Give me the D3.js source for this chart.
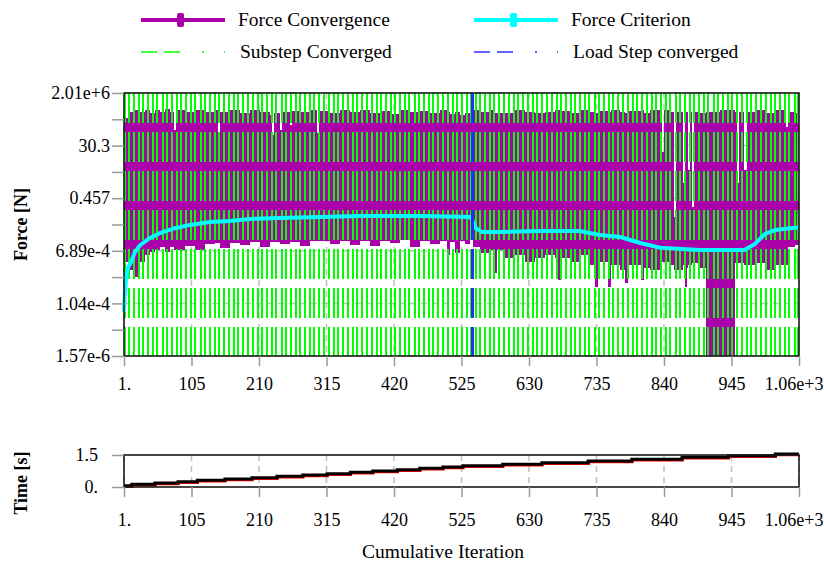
<!DOCTYPE html>
<html>
<head>
<meta charset="utf-8">
<script src="https://cdn.jsdelivr.net/npm/d3@7"></script>
<style>
body { margin: 0; background: #fff; }
svg text { font-family: "Liberation Serif", "Times New Roman", serif; }
</style>
</head>
<body>
<div id="vis"></div>
<script>
// force / time convergence chart

const FRAME_WIDTH = 824;
const FRAME_HEIGHT = 567;
const FONT = 18;
const FONT_BIG = 19.5;

// plot boxes
const MAIN = {left: 124, right: 799, top: 93, bottom: 356};
const TIME = {left: 124, right: 799, top: 455, bottom: 487};

// axis ticks
const X_TICKS = [1, 106, 211, 316, 421, 526, 631, 736, 841, 946, 1051];
const X_TICK_LABELS = ["1.", "105", "210", "315", "420", "525", "630", "735", "840", "945", "1.06e+3"];
const Y_MIN = 1.57e-6;
const Y_MAX = 2.01e6;
const Y_TICK_LABELS = ["1.57e-6", "1.04e-4", "6.89e-4", "0.457", "30.3", "2.01e+6"];
const T_TICKS = [0, 1.5];
const T_TICK_LABELS = ["0.", "1.5"];

// force convergence (max / min of each stretch of iterations)
const FORCE_ITER = [1, 3, 10, 18, 26, 34, 41, 49, 57, 65, 73, 79, 82, 96, 111, 127, 143, 147, 150, 166,
  181, 197, 213, 228, 231, 234, 244, 247, 259, 262, 275, 290, 301, 304, 321, 337, 353, 368, 384, 399,
  415, 430, 446, 461, 477, 493, 503, 508, 516, 524, 531, 539, 542, 544, 555, 570, 578, 581, 594, 609,
  625, 640, 656, 671, 676, 680, 695, 710, 726, 734, 738, 754, 759, 773, 780, 785, 805, 810, 819, 835,
  838, 841, 850, 857, 860, 871, 873, 876, 879, 882, 885, 888, 897, 906, 928, 951, 954, 957, 966, 970,
  982, 998, 1014, 1031, 1034, 1045, 1051];
const FORCE_MAX = [2.0e6, 1.4e5, 2.7e5, 3.3e5, 2.7e5, 3.3e5, 2.4e5, 3.3e5, 2.7e5, 3.7e5, 2.7e5, 3.9e4, 3.3e5, 2.7e5, 3.3e5, 2.7e5, 3.3e5, 2.0e3, 2.7e5, 3.3e5,
  2.4e5, 3.3e5, 2.7e5, 1.9e5, 2.3e4, 2.4e5, 3.9e4, 2.7e5, 6.7e4, 3.0e5, 2.7e5, 3.3e5, 2.8e4, 3.0e5, 2.4e5, 3.3e5, 2.7e5, 3.3e5, 2.4e5, 3.0e5,
  2.2e5, 3.3e5, 2.7e5, 3.0e5, 2.4e5, 3.3e5, 2.7e5, 2.2e5, 2.7e5, 1.9e5, 2.4e5, 2.7e5, 2.0e6, 3.3e5, 2.7e5, 3.3e5, 2.4e5, 2.4e5, 2.4e5, 3.3e5,
  2.7e5, 2.4e5, 2.7e5, 3.3e5, 3.3e5, 3.0e5, 2.4e5, 3.3e5, 2.7e5, 2.4e5, 3.0e5, 2.7e5, 3.3e5, 2.7e5, 2.4e5, 3.0e5, 3.3e5, 2.4e5, 3.3e5, 2.7e5,
  3.8e3, 3.3e5, 2.7e5, 3.9, 2.7e5, 1.4e2, 2.7e5, 2.7e5, 5.7e2, 2.7e5, 11, 2.7e5, 2.4e5, 2.7e5, 3.3e5, 2.7e5, 1.4e2, 2.7e5, 5.7e2, 2.7e5,
  3.3e5, 2.4e5, 3.3e5, 5.3e4, 2.7e5, 2.4e5, 2.4e5];
const FORCE_MIN = [0.033, 0.033, 0.014, 6.8e-3, 0.033, 0.070, 0.093, 0.12, 0.16, 0.093, 0.16, 0.12, 0.12, 0.18, 0.12, 0.22, 0.25, 0.25, 0.15, 0.25,
  0.20, 0.27, 0.16, 0.27, 0.27, 0.27, 0.22, 0.22, 0.27, 0.27, 0.18, 0.31, 0.31, 0.31, 0.22, 0.31, 0.20, 0.31, 0.18, 0.31,
  0.25, 0.34, 0.16, 0.31, 0.22, 0.31, 0.070, 0.27, 0.086, 0.31, 0.22, 0.34, 0.34, 0.16, 0.086, 0.12, 0.010, 0.12, 0.051, 0.070,
  0.033, 0.051, 0.070, 0.051, 4.9e-3, 0.051, 0.033, 0.070, 0.024, 2.4e-3, 0.033, 2.4e-3, 0.024, 0.014, 3.6e-3, 0.024, 4.9e-3, 0.018, 0.014, 0.033,
  0.033, 0.033, 0.024, 0.014, 0.014, 0.024, 2.4e-3, 0.018, 0.024, 0.024, 0.030, 0.030, 0.018, 1.6e-6, 1.6e-6, 0.030, 0.030, 0.030, 0.024, 0.024,
  0.030, 0.014, 0.024, 0.024, 0.16, 0.20, 0.20];

// force criterion
const CRIT_ITER = [1, 2, 4, 7, 12, 18, 26, 41, 57, 80, 104, 135, 166, 197, 244, 306, 368, 461, 539, 542,
  548, 558, 586, 648, 710, 741, 773, 804, 835, 897, 966, 982, 998, 1014, 1037, 1051];
const CRIT_VALUE = [1.7e-4, 8.2e-4, 4.9e-3, 0.018, 0.033, 0.096, 0.20, 0.42, 0.72, 1.2, 1.7, 2.3, 2.6, 3.2, 3.5, 3.9, 4.4, 4.4, 3.9, 3.2,
  1.2, 0.80, 0.80, 0.89, 0.89, 0.58, 0.47, 0.25, 0.15, 0.12, 0.12, 0.22, 0.65, 0.99, 1.2, 1.3];

// substep / load step converged iterations
const SUBSTEP_ITER = [3, 9, 16, 24, 31, 38, 46, 53, 61, 68, 75, 83, 90, 98, 105, 112, 120, 127, 135, 142,
  149, 157, 164, 172, 179, 186, 194, 201, 209, 216, 223, 231, 238, 246, 253, 260, 268, 275, 283, 290,
  297, 305, 312, 320, 327, 334, 342, 349, 357, 364, 371, 379, 386, 394, 401, 408, 416, 423, 431, 438,
  445, 453, 460, 468, 475, 482, 490, 497, 505, 512, 519, 527, 534, 540, 548, 555, 563, 570, 577, 585,
  592, 600, 607, 614, 622, 629, 637, 644, 651, 659, 666, 674, 681, 688, 696, 703, 711, 718, 725, 733,
  740, 748, 755, 762, 770, 777, 785, 792, 799, 807, 814, 822, 829, 836, 844, 851, 859, 866, 873, 881,
  888, 896, 903, 910, 918, 925, 933, 940, 947, 955, 962, 970, 977, 984, 992, 999, 1007, 1014, 1021, 1029,
  1036, 1044, 1049];
const LOADSTEP_ITER = [542];

// time history
const TIME_ITER = [1, 13, 49, 85, 115, 158, 200, 239, 279, 317, 353, 388, 426, 461, 497, 528,
  590, 651, 723, 791, 869, 941, 1014, 1051];
const TIME_VALUE = [0.0625, 0.125, 0.1875, 0.25, 0.3125, 0.375, 0.4375, 0.5, 0.5625, 0.625, 0.6875, 0.75, 0.8125, 0.875, 0.9375, 1.0,
  1.07, 1.14, 1.22, 1.30, 1.39, 1.47, 1.55, 1.55];

// colours
const PURPLE = "#aa00aa";
const CYAN = "#00ffff";
const GREEN = "#00ff00";
const BLUE = "#2a2aff";
const GRID = "#c0c0c0";
const TICK = "#999";

const svg = d3.select("#vis")
  .append("svg")
  .attr("width", FRAME_WIDTH)
  .attr("height", FRAME_HEIGHT);

// scales
const X_SCALE = d3.scaleLinear().domain([1, 1051]).range([MAIN.left, MAIN.right]);
const Y_SCALE = d3.scaleLog().domain([Y_MIN, Y_MAX]).range([MAIN.bottom, MAIN.top]);
const T_SCALE = d3.scaleLinear().domain([0, 1.5]).range([TIME.bottom, TIME.top]);

// equally spaced (in log) y ticks, every other one labelled
const LOG_LO = Math.log10(Y_MIN), LOG_HI = Math.log10(Y_MAX);
const Y_TICKS = d3.range(11).map(i => Math.pow(10, LOG_LO + i * (LOG_HI - LOG_LO) / 10));
const Y_MAJOR = Y_TICKS.filter((d, i) => i % 2 === 0);

// ---------- main plot ----------
const main = svg.append("g");

// gridlines
main.selectAll(".vgrid").data(X_TICKS).enter().append("line")
  .attr("x1", d => X_SCALE(d)).attr("x2", d => X_SCALE(d))
  .attr("y1", MAIN.top).attr("y2", MAIN.bottom)
  .attr("stroke", GRID).attr("stroke-width", 1.5).attr("stroke-dasharray", "6,5");
main.selectAll(".hgrid").data(Y_MAJOR).enter().append("line")
  .attr("x1", MAIN.left).attr("x2", MAIN.right)
  .attr("y1", d => Y_SCALE(d)).attr("y2", d => Y_SCALE(d))
  .attr("stroke", GRID).attr("stroke-width", 1.5).attr("stroke-dasharray", "6,5");

// force convergence band
const forceArea = d3.area()
  .x(i => X_SCALE(FORCE_ITER[i]))
  .y0(i => Y_SCALE(FORCE_MIN[i]))
  .y1(i => Y_SCALE(FORCE_MAX[i]))
  .curve(d3.curveStepAfter);
main.append("path")
  .datum(d3.range(FORCE_ITER.length))
  .attr("d", forceArea)
  .attr("fill", PURPLE)
  .attr("shape-rendering", "crispEdges");

// substep converged
main.selectAll(".substep").data(SUBSTEP_ITER).enter().append("line")
  .attr("x1", d => Math.round(X_SCALE(d))).attr("x2", d => Math.round(X_SCALE(d)))
  .attr("y1", MAIN.top).attr("y2", MAIN.bottom)
  .attr("stroke", GREEN).attr("stroke-width", 2)
  .attr("stroke-dasharray", "30,9")
  .attr("shape-rendering", "crispEdges");

// force criterion
const critLine = d3.line()
  .x(i => X_SCALE(CRIT_ITER[i]))
  .y(i => Y_SCALE(CRIT_VALUE[i]));
main.append("path")
  .datum(d3.range(CRIT_ITER.length))
  .attr("d", critLine)
  .attr("fill", "none")
  .attr("stroke", CYAN)
  .attr("stroke-width", 4);

// load step converged
main.selectAll(".loadstep").data(LOADSTEP_ITER).enter().append("line")
  .attr("x1", d => Math.round(X_SCALE(d))).attr("x2", d => Math.round(X_SCALE(d)))
  .attr("y1", MAIN.top).attr("y2", MAIN.bottom)
  .attr("stroke", BLUE).attr("stroke-width", 3)
  .attr("stroke-dasharray", "30,9")
  .attr("shape-rendering", "crispEdges");

// frame
main.append("rect")
  .attr("x", MAIN.left).attr("y", MAIN.top)
  .attr("width", MAIN.right - MAIN.left).attr("height", MAIN.bottom - MAIN.top)
  .attr("fill", "none").attr("stroke", "#1a1a1a").attr("stroke-width", 1.6);

// axes
const yAxis = main.append("g")
  .attr("transform", "translate(" + MAIN.left + ",0)")
  .call(d3.axisLeft(Y_SCALE).tickValues(Y_TICKS).tickSize(12).tickPadding(2)
    .tickFormat((d, i) => i % 2 === 0 ? Y_TICK_LABELS[i / 2] : ""));
const xAxis = main.append("g")
  .attr("transform", "translate(0," + MAIN.bottom + ")")
  .call(d3.axisBottom(X_SCALE).tickValues(X_TICKS).tickSize(10).tickPadding(11)
    .tickFormat((d, i) => X_TICK_LABELS[i]));

// ---------- time plot ----------
const tplot = svg.append("g");

tplot.selectAll(".vgrid").data(X_TICKS).enter().append("line")
  .attr("x1", d => X_SCALE(d)).attr("x2", d => X_SCALE(d))
  .attr("y1", TIME.top).attr("y2", TIME.bottom)
  .attr("stroke", GRID).attr("stroke-width", 1.5).attr("stroke-dasharray", "6,5");

const timeLine = d3.line()
  .x(i => X_SCALE(TIME_ITER[i]))
  .y(i => T_SCALE(TIME_VALUE[i]))
  .curve(d3.curveStepAfter);
tplot.append("path")
  .datum(d3.range(TIME_ITER.length))
  .attr("d", timeLine)
  .attr("transform", "translate(1,1.5)")
  .attr("fill", "none").attr("stroke", "#ff0000").attr("stroke-width", 1.5);
tplot.append("path")
  .datum(d3.range(TIME_ITER.length))
  .attr("d", timeLine)
  .attr("fill", "none").attr("stroke", "#000").attr("stroke-width", 3);

tplot.append("rect")
  .attr("x", TIME.left).attr("y", TIME.top)
  .attr("width", TIME.right - TIME.left).attr("height", TIME.bottom - TIME.top)
  .attr("fill", "none").attr("stroke", "#1a1a1a").attr("stroke-width", 1.6);

const tAxis = tplot.append("g")
  .attr("transform", "translate(" + TIME.left + ",0)")
  .call(d3.axisLeft(T_SCALE).tickValues(T_TICKS).tickSize(12).tickPadding(14)
    .tickFormat((d, i) => T_TICK_LABELS[i]));
const txAxis = tplot.append("g")
  .attr("transform", "translate(0," + TIME.bottom + ")")
  .call(d3.axisBottom(X_SCALE).tickValues(X_TICKS).tickSize(10).tickPadding(16)
    .tickFormat((d, i) => X_TICK_LABELS[i]));

// axis styling
[yAxis, xAxis, tAxis, txAxis].forEach(ax => {
  ax.select(".domain").remove();
  ax.selectAll(".tick line").attr("stroke", TICK).attr("stroke-width", 1.5);
  ax.selectAll(".tick text")
    .attr("fill", "#000")
    .attr("font-family", "'Liberation Serif', 'Times New Roman', serif")
    .attr("font-size", FONT);
});
// last x label is pushed inside the picture
[xAxis, txAxis].forEach(ax => {
  ax.selectAll(".tick text").filter((d, i) => i === X_TICKS.length - 1)
    .attr("text-anchor", "end").attr("x", FRAME_WIDTH - 1 - MAIN.right);
});

// titles
svg.append("text")
  .attr("transform", "translate(27," + ((MAIN.top + MAIN.bottom) / 2) + ") rotate(-90)")
  .attr("text-anchor", "middle")
  .attr("font-weight", "bold").attr("font-size", FONT)
  .text("Force [N]");
svg.append("text")
  .attr("transform", "translate(27,483) rotate(-90)")
  .attr("text-anchor", "middle")
  .attr("font-weight", "bold").attr("font-size", FONT)
  .text("Time [s]");
svg.append("text")
  .attr("x", 443).attr("y", 558)
  .attr("text-anchor", "middle").attr("font-size", FONT_BIG)
  .text("Cumulative Iteration");

// ---------- legend ----------
const LEGEND = [
  {label: "Force Convergence", color: PURPLE, kind: "marker", x: 141, y: 20},
  {label: "Force Criterion", color: CYAN, kind: "marker", x: 474, y: 20},
  {label: "Substep Converged", color: GREEN, kind: "dash", x: 141, y: 52},
  {label: "Load Step converged", color: "#3030ff", kind: "dash", x: 474, y: 52}
];
const leg = svg.selectAll(".legend").data(LEGEND).enter().append("g")
  .attr("transform", d => "translate(" + d.x + "," + d.y + ")");
leg.filter(d => d.kind === "marker").append("line")
  .attr("x1", 0).attr("x2", 84).attr("y1", 0).attr("y2", 0)
  .attr("stroke", d => d.color).attr("stroke-width", 4);
leg.filter(d => d.kind === "marker").append("rect")
  .attr("x", 36).attr("y", -7).attr("width", 7).attr("height", 14).attr("rx", 2)
  .attr("fill", d => d.color);
leg.filter(d => d.kind === "dash").append("line")
  .attr("x1", 0).attr("x2", 84).attr("y1", 0).attr("y2", 0)
  .attr("stroke", d => d.color).attr("stroke-width", 1.5)
  .attr("stroke-dasharray", "16,7,16,22,2,20");
leg.append("text")
  .attr("x", d => d.kind === "marker" ? 97 : 99).attr("y", 6)
  .attr("font-size", FONT_BIG)
  .text(d => d.label);
</script>
</body>
</html>
